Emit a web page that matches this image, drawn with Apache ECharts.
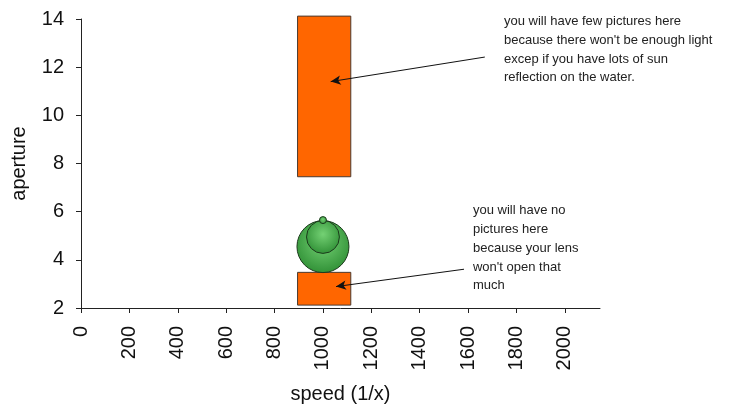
<!DOCTYPE html>
<html>
<head>
<meta charset="utf-8">
<script src="https://cdn.jsdelivr.net/npm/echarts@6/dist/echarts.min.js"></script>
<style>
  html, body { margin: 0; padding: 0; background: #fff; }
  #main { width: 736px; height: 413px; }
</style>
</head>
<body>
<div id="main"></div>
<script>
// x ticks (speed 1/x) and y ticks (aperture)
var xTicks = [0, 200, 400, 600, 800, 1000, 1200, 1400, 1600, 1800, 2000];
var yTicks = [2, 4, 6, 8, 10, 12, 14];

// orange zones: [speedFrom, speedTo, apertureFrom, apertureTo]
var zoneHigh = [895, 1115, 7.45, 14.12];
var zoneLow = [895, 1115, 2.12, 3.48];

// bubbles: speed, aperture, bubble value
var bubbleSpeed = [1000, 1000, 1000];
var bubbleAperture = [4.55, 4.95, 5.65];
var bubbleValue = [100, 40, 1.8];

// notes: text, text anchor (speed, aperture), arrow from, arrow to
var noteTexts = [
    "you will have few pictures here\nbecause there won't be enough light\nexcep if you have lots of sun\nreflection on the water.",
    "you will have no\npictures here\nbecause your lens\nwon't open that\nmuch"
];
var noteAnchor = [[1748, 14.28], [1620, 6.42]];
var arrowFrom = [[1669, 12.42], [1583, 3.61]];
var arrowTo = [[1032, 11.40], [1054, 2.89]];

var myChart = echarts.init(document.getElementById('main'));

var bubbleData = [];
for (var i = 0; i < bubbleSpeed.length; i++) {
    bubbleData.push([bubbleSpeed[i], bubbleAperture[i], bubbleValue[i]]);
}

var markLines = [];
for (var j = 0; j < arrowFrom.length; j++) {
    markLines.push([{coord: arrowFrom[j]}, {coord: arrowTo[j]}]);
}

var noteData = [];
for (var k = 0; k < noteTexts.length; k++) {
    noteData.push([noteAnchor[k][0], noteAnchor[k][1], k]);
}

var labelFont = 'Liberation Sans, Arial, sans-serif';

var option = {
    backgroundColor: '#fff',
    animation: false,
    grid: {
        left: 81,
        top: 19,
        right: 136,
        bottom: 105
    },
    xAxis: {
        type: 'value',
        min: 0,
        max: 2145,
        name: 'speed (1/x)',
        nameLocation: 'middle',
        nameGap: 76,
        nameTextStyle: {color: '#111', fontSize: 20, fontFamily: labelFont},
        axisLine: {lineStyle: {color: '#222', width: 1}},
        axisTick: {show: true, length: 5, customValues: xTicks, lineStyle: {color: '#222'}},
        axisLabel: {
            customValues: xTicks,
            formatter: function (v) { return String(v); },
            rotate: 90,
            margin: 18,
            color: '#111',
            fontSize: 20,
            fontFamily: labelFont
        },
        splitLine: {show: false}
    },
    yAxis: {
        type: 'value',
        min: 2,
        max: 14,
        interval: 2,
        name: 'aperture',
        nameLocation: 'middle',
        nameGap: 52,
        nameTextStyle: {color: '#111', fontSize: 20, fontFamily: labelFont},
        axisLine: {show: true, lineStyle: {color: '#222', width: 1}},
        axisTick: {show: true, length: 5, lineStyle: {color: '#222'}},
        axisLabel: {margin: 17, color: '#111', fontSize: 20, fontFamily: labelFont},
        splitLine: {show: false}
    },
    series: [
        {
            type: 'custom',
            name: 'zones',
            data: [zoneHigh, zoneLow],
            renderItem: function (params, api) {
                var p1 = api.coord([api.value(0), api.value(3)]);
                var p2 = api.coord([api.value(1), api.value(2)]);
                return {
                    type: 'rect',
                    shape: {x: p1[0], y: p1[1], width: p2[0] - p1[0], height: p2[1] - p1[1]},
                    style: {fill: '#ff6600', stroke: '#4a3a30', lineWidth: 1}
                };
            },
            z: 2
        },
        {
            type: 'scatter',
            name: 'bubbles',
            data: bubbleData,
            symbolSize: function (val) {
                return 52 * Math.sqrt(val[2] / 100);
            },
            itemStyle: {
                color: new echarts.graphic.RadialGradient(0.5, 0.42, 0.6, [
                    {offset: 0, color: '#74d174'},
                    {offset: 1, color: '#2f8f35'}
                ]),
                borderColor: '#1c3a1c',
                borderWidth: 1,
                opacity: 1
            },
            z: 3
        },
        {
            type: 'custom',
            name: 'notes',
            data: noteData,
            renderItem: function (params, api) {
                var p = api.coord([api.value(0), api.value(1)]);
                return {
                    type: 'text',
                    x: p[0],
                    y: p[1],
                    style: {
                        text: noteTexts[api.value(2)],
                        fill: '#222',
                        font: '13px Liberation Sans, Arial, sans-serif',
                        lineHeight: 18.7,
                        align: 'left',
                        verticalAlign: 'top'
                    }
                };
            },
            markLine: {
                silent: true,
                symbol: ['none', 'arrow'],
                symbolSize: [7, 10],
                label: {show: false},
                lineStyle: {color: '#111', width: 1, type: 'solid'},
                data: markLines
            },
            z: 4
        }
    ]
};

window.onresize = myChart.resize;
myChart.setOption(option);
</script>
</body>
</html>
